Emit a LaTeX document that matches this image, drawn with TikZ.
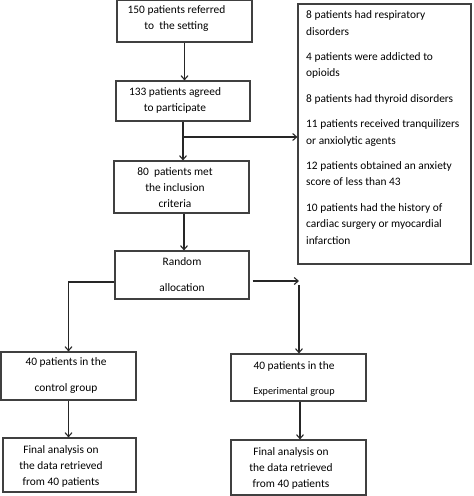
\documentclass[tikz,border=0pt]{standalone}
\usepackage{fontspec}
\setmainfont{Carlito}
\usetikzlibrary{arrows.meta}
\begin{document}
\begin{tikzpicture}[x=1pt,y=-1pt,
  box/.style={draw=black!75,line width=1.1pt,inner sep=0pt},
  txt/.style={inner sep=0pt,align=center,font=\fontsize{11.4}{16}\selectfont,text=black},
  arr/.style={draw=black!85,line width=1.1pt,-{Straight Barb[length=4pt,width=7pt]}},
  ln/.style={draw=black!85,line width=1.1pt}]
\useasboundingbox (0,0) rectangle (474,496);
\fill[white] (0,0) rectangle (474,496);
% boxes
\node[box,minimum width=135pt,minimum height=41.5pt] (b1) at (184.5,21.25) {};
\node[box,minimum width=134pt,minimum height=40pt] (b2) at (183,101) {};
\node[box,minimum width=135pt,minimum height=52pt] (b3) at (181.5,187) {};
\node[box,minimum width=173pt,minimum height=260pt] (R) at (384.5,134) {};
\node[box,minimum width=134pt,minimum height=48pt] (rand) at (182,275) {};
\node[box,minimum width=135pt,minimum height=48pt] (ctrl) at (68.5,376) {};
\node[box,minimum width=135pt,minimum height=47pt] (exp) at (298.5,377.5) {};
\node[box,minimum width=133pt,minimum height=54pt] (finc) at (69.5,465) {};
\node[box,minimum width=135pt,minimum height=55pt] (fine) at (298.5,467.5) {};
% texts
\node[txt] (t1) at (176.5,19) {150 patients referred\\to~ the setting};
\node[txt] (t2) at (175,100.5) {133 patients agreed\\to participate};
\node[txt] (t3) at (175,188) {80~ patients met\\the inclusion\\criteria};
\node[txt,anchor=north west,align=left,font=\fontsize{11.4}{16.4}\selectfont] (tR) at (306,10.5) {8 patients had respiratory\\disorders\\[9pt]4 patients were addicted to\\opioids\\[9pt]8 patients had thyroid disorders\\[9pt]11 patients received tranquilizers\\or anxiolytic agents\\[9pt]12 patients obtained an anxiety\\score of less than 43\\[9pt]10 patients had the history of\\cardiac surgery or myocardial\\infarction};
\node[txt] (t4) at (182,275) {Random\\[10pt]allocation};
\node[txt] (t5) at (66,376) {40 patients in the\\[10pt]control group};
\node[txt] (t6) at (294,378.5) {40 patients in the\\[9pt]{\fontsize{10.2}{16}\selectfont Experimental group}};
\node[txt] (t7) at (61,466) {Final analysis on\\the data retrieved\\from 40 patients};
\node[txt] (t8) at (291,468) {Final analysis on\\the data retrieved\\from 40 patients};
% connectors
\draw[arr] (b1.south) -- (b1.south |- b2.north);
\draw[arr] (b2.south) -- (b2.south |- b3.north);
\coordinate (br) at (183,137);
\draw[arr] (br) -- (br -| R.west);
\draw[arr] ([xshift=2.5pt]b3.south) -- ([xshift=2.5pt]b3.south |- rand.north);
\draw[arr] ([yshift=-7pt]rand.west) -| (ctrl.north);
\coordinate (ra) at (299,281);
\draw[arr] ([xshift=3pt,yshift=-6pt]rand.east) -- (ra);
\coordinate (rb) at (299,285);
\draw[arr] (rb) -- (rb |- exp.north);
\draw[arr] (ctrl.south) -- (ctrl.south |- finc.north);
\draw[arr] ([xshift=1.5pt]exp.south) -- ([xshift=1.5pt]exp.south |- fine.north);
\end{tikzpicture}
\end{document}
